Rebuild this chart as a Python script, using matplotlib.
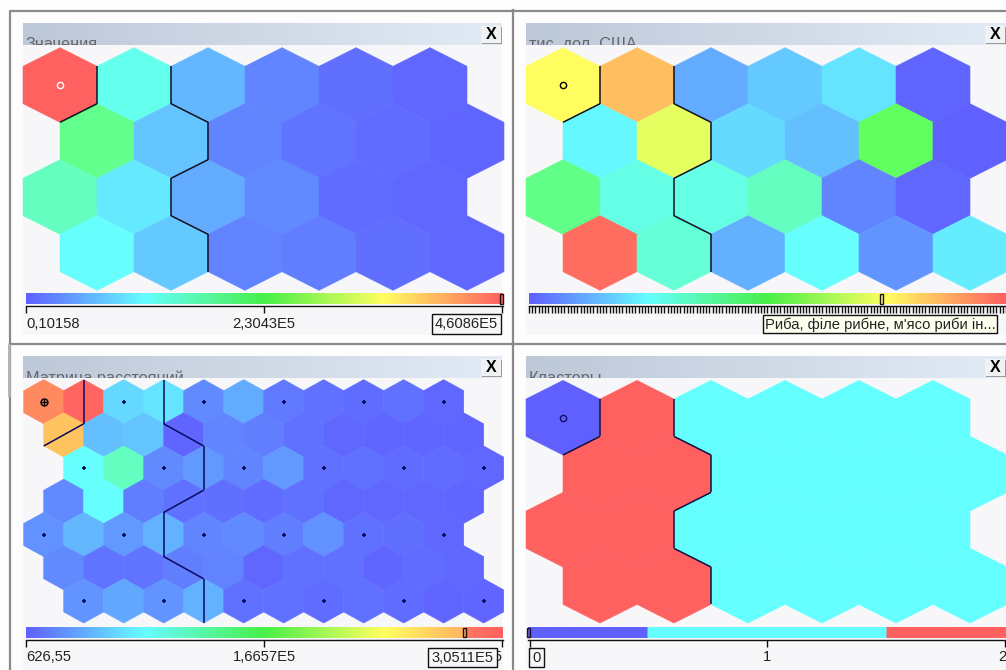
import numpy as np
import matplotlib
matplotlib.use('Agg')
import matplotlib.pyplot as plt
from matplotlib.collections import PolyCollection, LineCollection
from matplotlib.colors import LinearSegmentedColormap, ListedColormap
from matplotlib.patches import Rectangle

plt.rcParams['font.family'] = ['Liberation Sans', 'DejaVu Sans']

values_1 = [[1.00, 0.28, 0.14, 0.06, 0.025, 0.012],
            [0.43, 0.16, 0.06, 0.035, 0.02, 0.01],
            [0.35, 0.215, 0.12, 0.07, 0.02, 0.012],
            [0.25, 0.165, 0.055, 0.05, 0.025, 0.015]]

values_2 = [[0.75, 0.85, 0.12, 0.165, 0.21, 0.01],
            [0.24, 0.71, 0.195, 0.15, 0.50, 0.00],
            [0.44, 0.29, 0.29, 0.35, 0.06, 0.015],
            [0.98, 0.32, 0.125, 0.25, 0.085, 0.22]]

values_3 = [[0.93, 0.99, 0.19, 0.21, 0.07, 0.12, 0.04, 0.03, 0.02, 0.03, 0.015],
            [0.84, 0.15, 0.16, 0.01, 0.06, 0.05, 0.03, 0.015, 0.01, 0.01, 0.01],
            [0.25, 0.35, 0.07, 0.09, 0.06, 0.09, 0.03, 0.03, 0.02, 0.02, 0.015],
            [0.07, 0.25, 0.05, 0.03, 0.025, 0.02, 0.03, 0.015, 0.015, 0.015, 0.01],
            [0.08, 0.14, 0.09, 0.13, 0.06, 0.07, 0.05, 0.08, 0.03, 0.025, 0.015],
            [0.07, 0.035, 0.035, 0.05, 0.055, 0.012, 0.03, 0.03, 0.008, 0.02, 0.012],
            [0.085, 0.115, 0.085, 0.13, 0.03, 0.03, 0.02, 0.03, 0.02, 0.01, 0.01]]

clusters = [[0, 2, 1, 1, 1, 1],
            [2, 2, 1, 1, 1, 1],
            [2, 2, 1, 1, 1, 1],
            [2, 2, 1, 1, 1, 1]]

titles = ['Значения', 'тис. дол. США', 'Матрица расстояний', 'Кластеры']
tick_labels_1 = ['0,10158', '2,3043E5', '4,6086E5']
tick_labels_3 = ['626,55', '1,6657E5', '3,0511E5']
tick_labels_4 = ['0', '1', '2']
tooltip_2 = "Риба, філе рибне, м'ясо риби ін..."
n_items_2 = 149
marker_pos = [1.0, 0.74, 0.92, 0.0]

# rows 1 and 3 of the coarse map sit half a cell to the right,
# the distance matrix has a cell between every pair of map cells
coarse_shift = [0, 1, 0, 1]
fine_shift = [0, 1, 2, 1, 0, 1, 2]

BLUE = '#6060ff'
CYAN = '#66ffff'
RED = '#ff6060'
som_cmap = LinearSegmentedColormap.from_list('som', [BLUE, CYAN, '#60ff60', '#ffff60', RED])
scale_cmap = LinearSegmentedColormap.from_list('scale', [BLUE, CYAN, '#48f048', '#ffff60', RED])
cluster_cmap = ListedColormap([BLUE, CYAN, RED])
bar_cmap = LinearSegmentedColormap.from_list('titlebar', ['#bdc8d8', '#e2ebf5'])

fig = plt.figure(figsize=(10.06, 6.70), dpi=100, facecolor='#fdfdfd')
ax = fig.add_axes([0, 0, 1, 1])
ax.axis('off')


def hex_poly(cx, cy, w, pitch):
    r = pitch * 2 / 3.0
    return [(cx, cy - r), (cx + w, cy - r / 2), (cx + w, cy + r / 2),
            (cx, cy + r), (cx - w, cy + r / 2), (cx - w, cy - r / 2)]


def hex_grid(data, shift, x0, y0, w, pitch):
    polys = []
    for r, row in enumerate(data):
        for c in range(len(row)):
            polys.append(hex_poly(x0 + 2 * w * c + w * shift[r], y0 + pitch * r, w, pitch))
    return polys


def draw_hexes(data, shift, x0, y0, w, pitch, cmap, vmin, vmax):
    polys = hex_grid(data, shift, x0, y0, w, pitch)
    pc = PolyCollection(polys, array=np.array(data, dtype=float).ravel(), cmap=cmap,
                        edgecolors='face', linewidths=0.4, zorder=3)
    pc.set_clim(vmin, vmax)
    ax.add_collection(pc)


def draw_boundary(x0, y0, w, pitch, color):
    # an edge shared by two map cells of different clusters is a cluster border
    edges = {}
    polys = hex_grid(clusters, coarse_shift, x0, y0, w, pitch)
    flat = np.array(clusters).ravel()
    for poly, cl in zip(polys, flat):
        for i in range(6):
            a = (round(poly[i][0], 1), round(poly[i][1], 1))
            b = (round(poly[(i + 1) % 6][0], 1), round(poly[(i + 1) % 6][1], 1))
            edges.setdefault(tuple(sorted([a, b])), []).append(cl)
    segs = [k for k, v in edges.items() if len(v) == 2 and v[0] != v[1]]
    ax.add_collection(LineCollection(segs, colors=color, linewidths=1.1, zorder=5))


def draw_frame(x0, x1, y0, y1, title, title_y):
    ax.add_patch(Rectangle((x0, y0 + 22), x1 - x0, y1 - y0 - 22, fc='#f7f7f9', ec='none', zorder=1))
    ax.imshow(np.linspace(0, 1, 256)[None, :], cmap=bar_cmap, aspect='auto',
              extent=(x0, x1, y0 + 22, y0), zorder=2)
    # the caption is cut off by the lower edge of the title bar
    t = ax.text(x0 + 3, title_y, title, fontsize=11.7, color='#66666e', va='baseline', zorder=2.5)
    t.set_clip_path(Rectangle((x0, y0), x1 - x0, 22, transform=ax.transData))
    t.set_clip_on(True)
    bx = x1 - 21
    ax.add_patch(Rectangle((bx + 1, y0 + 4), 20, 17, fc='#9a9a9a', ec='none', zorder=2.6))
    ax.add_patch(Rectangle((bx, y0 + 3), 20, 17, fc='#f0f2f4', ec='none', zorder=2.7))
    ax.text(bx + 10, y0 + 11.5, 'X', fontsize=11.5, fontweight='bold', color='black',
            ha='center', va='center', zorder=2.8)


def draw_scale(x0, x1, y0, samples, cmap, vmin, vmax, pos, ticks):
    ax.imshow(np.asarray(samples)[None, :], cmap=cmap, vmin=vmin, vmax=vmax, aspect='auto',
              extent=(x0, x1, y0 + 10.5, y0), zorder=3)
    mx = x0 + (x1 - x0) * pos
    mx = min(max(mx, x0 + 1), x1 - 1)
    ax.add_patch(Rectangle((mx - 1.5, y0 + 0.5), 3, 9.5, fc='none', ec='#201010', lw=1, zorder=4))
    ax.plot([x0, x1], [y0 + 12.5, y0 + 12.5], color='#111111', lw=1, zorder=4)
    ax.vlines(ticks, y0 + 12.5, y0 + 19.5, color='#111111', lw=1, zorder=4)


def boxed_label(x0, x1, y0, y1, label, fc):
    ax.add_patch(Rectangle((x0, y0), x1 - x0, y1 - y0, fc=fc, ec='#111111', lw=1, zorder=6))
    ax.text((x0 + x1) / 2.0, (y0 + y1) / 2.0 + 0.5, label, fontsize=10.6, color='#222222',
            ha='center', va='center', zorder=7)


def scale_label(x, y, label, ha):
    ax.text(x, y, label, fontsize=10.6, color='#222222', ha=ha, va='center', zorder=5)


# outer window lines
ax.plot([1006, 10.5, 10.5], [10.5, 10.5, 670], color='#8a8a8a', lw=1.6, zorder=0.5)
ax.plot([513.5, 513.5], [10, 670], color='#8a8a8a', lw=1.6, zorder=0.5)
ax.plot([10, 1006], [344, 344], color='#8a8a8a', lw=1.6, zorder=0.5)
ax.plot([9, 9], [345, 395], color='#b0b0b0', lw=2, zorder=0.5)

draw_frame(23, 502, 23, 335, titles[0], 49)
draw_frame(526, 1006, 23, 335, titles[1], 49)
draw_frame(23, 502, 356, 670, titles[2], 382.6)
draw_frame(526, 1006, 356, 670, titles[3], 382.6)

# top left: values
draw_hexes(values_1, coarse_shift, 60, 85, 37, 56, som_cmap, 0, 1)
draw_boundary(60, 85, 37, 56, '#101020')
ax.plot([60], [85], 'o', ms=4.5, mfc='none', mec='white', mew=1, zorder=6)
scale = np.linspace(0, 1, 512)
draw_scale(26, 503, 293.7, scale, scale_cmap, 0, 1, marker_pos[0], [26, 264, 502])
scale_label(26, 324, tick_labels_1[0], 'left')
scale_label(264, 324, tick_labels_1[1], 'center')
boxed_label(432, 501, 314, 334, tick_labels_1[2], '#f7f7f9')

# top right: one item
draw_hexes(values_2, coarse_shift, 563, 85, 37, 56, som_cmap, 0, 1)
draw_boundary(563, 85, 37, 56, '#101020')
ax.plot([563], [85], 'o', ms=4.5, mfc='none', mec='black', mew=1, zorder=6)
draw_scale(529, 1006, 293.7, scale, scale_cmap, 0, 1, marker_pos[1], np.linspace(529, 1006, n_items_2))
boxed_label(763, 997, 315, 333, tooltip_2, '#fffff0')

# bottom left: distance matrix
draw_hexes(values_3, fine_shift, 43.7, 401.7, 20, 33.2, som_cmap, 0, 1)
draw_boundary(43.7, 401.7, 40, 66.4, '#0a0a60')
dots = np.array([np.mean(p, axis=0) for p in hex_grid(clusters, coarse_shift, 43.7, 401.7, 40, 66.4)])
ax.plot(dots[1:, 0], dots[1:, 1], '+', ms=3.5, mew=1.2, color='#0a0a50', zorder=6)
ax.plot(dots[0, 0], dots[0, 1], 'o', ms=5, mfc='none', mec='black', mew=1, zorder=6)
ax.plot(dots[0, 0], dots[0, 1], '+', ms=4, mew=1, color='black', zorder=6)
# the colour bar of this panel stays orange up to the slider and turns red after it
scale_3 = np.interp(scale, [0, 0.75, 0.92, 0.925, 1], [0, 0.75, 0.87, 0.96, 1])
draw_scale(26, 503, 627.3, scale_3, scale_cmap, 0, 1, marker_pos[2], [26, 264, 502])
scale_label(26, 657, tick_labels_3[0], 'left')
scale_label(264, 657, tick_labels_3[1], 'center')
scale_label(502.5, 657, tick_labels_3[2], 'right')
boxed_label(428, 497, 648, 667, tick_labels_3[2], '#f7f7f9')

# bottom right: clusters
draw_hexes(clusters, coarse_shift, 563, 417.7, 37, 56, cluster_cmap, 0, 2)
draw_boundary(563, 417.7, 37, 56, '#101040')
ax.plot([563], [417.7], 'o', ms=4.5, mfc='none', mec='#101060', mew=1, zorder=6)
draw_scale(528, 1006, 627.3, np.round(np.linspace(0, 2, 512)), cluster_cmap, 0, 2,
           marker_pos[3], [530, 767, 1005])
boxed_label(529, 544, 648, 667, tick_labels_4[0], '#f7f7f9')
scale_label(767, 657, tick_labels_4[1], 'center')
scale_label(1002, 657, tick_labels_4[2], 'center')

ax.set_xlim(0, 1006)
ax.set_ylim(670, 0)
fig.savefig('out.png', dpi=100, facecolor=fig.get_facecolor())
